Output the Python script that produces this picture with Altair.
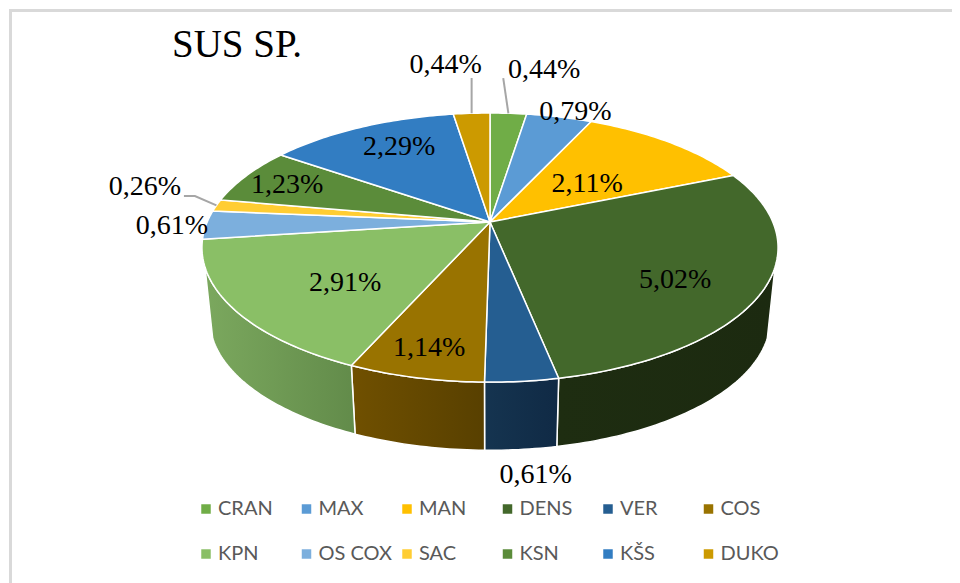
import math
import altair as alt

# ---- data ----
names = ["CRAN", "MAX", "MAN", "DENS", "VER", "COS", "KPN", "OS COX", "SAC", "KSN", "KŠS", "DUKO"]
values = [0.44, 0.79, 2.11, 5.02, 0.61, 1.14, 2.91, 0.61, 0.26, 1.23, 2.29, 0.44]
title_text = "SUS SP."

# ---- styles ----
top_colors = ["#70ad47", "#5b9bd5", "#ffc000", "#43682b", "#255e91", "#997300",
              "#8abf66", "#7cafdd", "#ffcd33", "#5b8c3a", "#327dc2", "#cc9a00"]
wall_left = ["#3a5a26", "#2e5678", "#8a6c00", "#1e2d11", "#153450", "#705000",
             "#7ba85e", "#5f87ab", "#a88a20", "#3f6428", "#1f5486", "#8a6900"]
wall_right = ["#3a5a26", "#2e5678", "#8a6c00", "#1c2a10", "#102a45", "#584000",
              "#628b4a", "#5f87ab", "#a88a20", "#3f6428", "#1f5486", "#8a6900"]

# ---- pie geometry (page pixels minus the 8px body margin) ----
CX, CY = 482.0, 214.0      # apex of the pie
A, B, K = 282.8, 129.7, 0.19  # perspective parameters of the top disc
SHRINK, DEPTH = 0.973, 72.5   # how the lower rim relates to the upper one
WALL_FROM, WALL_TO = 109.0, 251.0  # part of the rim whose side wall faces the viewer
BORDER = "#d9d9d9"

# label placement: radial fraction, angle shift (deg) from the slice middle
label_r = [1.54, 1.083, 0.484, 0.728, 1.424, 0.835, 0.634, 1.12, 1.321, 0.821, 0.752, 1.598]
label_shift = [4.8, 2.6, 2.7, 5.9, 0.5, 0.2, -5.3, 0.1, 5.3, -0.3, 3.2, -2.9]
# leader lines: pixel offsets from the label centre, by slice index
leaders = {0: [(-41, 9)], 11: [(26, 14)], 8: [(39, 10), (50, 10)]}


def project(theta_deg, r=1.0, lower=False):
    t = math.radians(theta_deg)
    u, v = r * math.sin(t), r * math.cos(t)
    w = 1 + K * v
    x, y = A * u / w, -B * v / w
    if lower:
        x, y = x * SHRINK, y * SHRINK + DEPTH
    return [CX + x, CY + y]


def feature(name, kind, coords):
    return {"type": "Feature", "properties": {"name": name},
            "geometry": {"type": kind, "coordinates": coords}}


total = sum(values)
edges = [0.0]
for v in values:
    edges.append(edges[-1] + v / total * 360)


def arc(a0, a1, lower=False):
    n = max(2, int(abs(a1 - a0)) + 2)
    return [project(a0 + (a1 - a0) * i / (n - 1), 1.0, lower) for i in range(n)]


projection = alt.Projection(type="identity", scale=1, translate=[0, 0])

# side walls of the slices that face the viewer
wall_layers = []
for i in range(len(values)):
    a0, a1 = max(edges[i], WALL_FROM), min(edges[i + 1], WALL_TO)
    if a1 <= a0:
        continue
    ring = arc(a0, a1) + arc(a1, a0, lower=True)
    ring.append(ring[0])
    grad = alt.Gradient(gradient="linear", x1=0, x2=1, y1=0, y2=0,
                        stops=[alt.GradientStop(color=wall_left[i], offset=0),
                               alt.GradientStop(color=wall_right[i], offset=1)])
    wall_layers.append(
        alt.Chart(alt.Data(values=[feature(names[i], "Polygon", [ring])]))
        .mark_geoshape(fill=grad, stroke="white", strokeWidth=1.5)
    )

# top faces
tops = []
for i, name in enumerate(names):
    ring = [[CX, CY]] + arc(edges[i], edges[i + 1]) + [[CX, CY]]
    tops.append(feature(name, "Polygon", [ring]))

top_layer = alt.Chart(alt.Data(values=tops)).mark_geoshape(
    stroke="white", strokeWidth=1.5
).encode(
    color=alt.Color(
        "properties.name:N",
        scale=alt.Scale(domain=names, range=top_colors),
        sort=names,
        legend=alt.Legend(
            title=None, orient="none", legendX=188, legendY=491, columns=6,
            direction="horizontal",
            gridAlign="all", symbolType="square", symbolSize=90, symbolStrokeWidth=0,
            labelFont="Lato", labelFontSize=20, labelColor="#595959",
            labelLimit=200, labelOffset=2, columnPadding=4.5, rowPadding=25,
        ),
    )
)

# labels and leader lines
label_rows, leader_features = [], []
for i, v in enumerate(values):
    mid = (edges[i] + edges[i + 1]) / 2
    p = project(mid + label_shift[i], label_r[i])
    label_rows.append({"lon": p[0], "lat": p[1], "t": f"{v:.2f}".replace(".", ",") + "%"})
    if i in leaders:
        pts = [[p[0] + dx, p[1] + dy] for dx, dy in leaders[i]] + [project(mid)]
        leader_features.append(feature(names[i], "LineString", pts))

leader_layer = alt.Chart(alt.Data(values=leader_features)).mark_geoshape(
    filled=False, stroke="#a6a6a6", strokeWidth=2
)
text_layer = alt.Chart(alt.Data(values=label_rows)).mark_text(
    font="Liberation Serif", fontSize=28, color="black", align="center", baseline="middle", dy=1
).encode(longitude="lon:Q", latitude="lat:Q", text="t:N")

border_layer = alt.Chart(alt.Data(values=[
    feature("frame", "LineString", [[2.5, 600], [2.5, 2.5], [1000, 2.5]])
])).mark_geoshape(filled=False, stroke=BORDER, strokeWidth=3)

chart = alt.layer(
    border_layer, *wall_layers, top_layer, leader_layer, text_layer
).properties(
    width=944, height=575, padding=0,
    autosize=alt.AutoSizeParams(type="none"),
    projection=projection,
    title=alt.TitleParams(
        title_text, anchor="start", font="Liberation Serif", fontSize=39,
        fontWeight="normal", color="black", baseline="alphabetic",
        offset=0, dx=164, dy=88,
    ),
).configure_view(stroke=None).configure(background="white")

chart.save("out.html", embed_options={"renderer": "svg", "actions": False})
